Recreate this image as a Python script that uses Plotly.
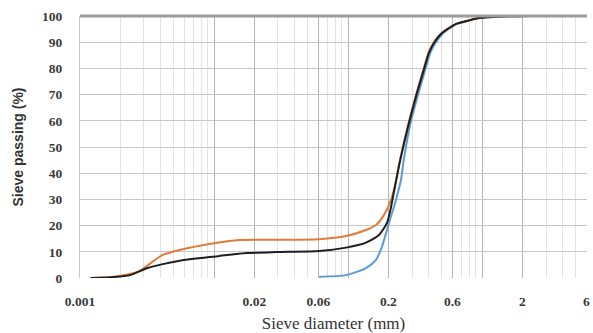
import numpy as np
import plotly.graph_objects as go

# ---- data ----
black_x = [0.0012, 0.0017, 0.00236, 0.00315, 0.00414, 0.00554, 0.00975, 0.0175, 0.0292,
           0.0608, 0.0966, 0.136, 0.170, 0.195, 0.209, 0.222, 0.245, 0.284, 0.326, 0.367,
           0.400, 0.436, 0.500, 0.64, 0.794, 0.942, 1.40, 2.2]
black_y = [0, 0.3, 1.1, 3.7, 5.3, 6.6, 8.1, 9.5, 9.9,
           10.3, 11.6, 13.5, 16.4, 21, 27, 34, 45, 59, 70.5, 79.4,
           85.8, 89.6, 93.4, 97, 98.3, 99.2, 99.8, 100]

orange_x = [0.0012, 0.0017, 0.00236, 0.00279, 0.00315, 0.00414, 0.00554, 0.00975, 0.0155,
            0.0292, 0.0608, 0.0966, 0.136, 0.1615, 0.185, 0.209, 0.222, 0.245, 0.284,
            0.326, 0.367, 0.400, 0.436, 0.500, 0.64, 0.794, 0.942, 1.40, 2.2]
orange_y = [0, 0.3, 1.5, 2.7, 4.6, 8.8, 10.7, 13.2, 14.5,
            14.6, 14.8, 16, 18.3, 20.2, 24, 29.8, 34.5, 45.5, 59.5,
            71, 80, 86.2, 90, 93.6, 97, 98.3, 99.2, 99.8, 100]

blue_x = [0.0608, 0.0966, 0.136, 0.1615, 0.179, 0.202, 0.2275, 0.248, 0.26, 0.292,
          0.335, 0.376, 0.41, 0.447, 0.512, 0.65, 0.8, 0.95, 1.4, 2.2]
blue_y = [0.5, 1.1, 3.8, 6.9, 12, 21, 29.8, 37.4, 45, 59,
          70.5, 79.4, 85.8, 89.6, 93.4, 97, 98.3, 99.2, 99.8, 100]

x_tick_vals = [0.001, 0.02, 0.06, 0.2, 0.6, 2, 6]
x_tick_text = ["0.001", "0.02", "0.06", "0.2", "0.6", "2", "6"]
y_major_vals = [0, 20, 40, 60, 80, 100]
y_minor_vals = [10, 30, 50, 70, 90]

# grid positions on the log axis
decades = [0.01, 0.1, 1]
grid_vals = []
for k in [-3, -2, -1, 0]:
    for n in range(1, 10):
        v = round(n * 10.0 ** k, 6)
        if v <= 6.0001:
            grid_vals.append(v)
major_vals = sorted(set(x_tick_vals) | set(decades))
label_map = dict(zip(x_tick_vals, x_tick_text))
major_text = [label_map.get(v, "") for v in major_vals]
minor_vals = [v for v in grid_vals if v not in major_vals]

fig = go.Figure()
fig.add_trace(go.Scatter(x=blue_x, y=blue_y, mode="lines",
                         line=dict(color="#5B9BD5", width=2, shape="spline", smoothing=0.6)))
fig.add_trace(go.Scatter(x=orange_x, y=orange_y, mode="lines",
                         line=dict(color="#E07B39", width=2, shape="spline", smoothing=0.6)))
fig.add_trace(go.Scatter(x=black_x, y=black_y, mode="lines",
                         line=dict(color="#1E1E1E", width=2, shape="spline", smoothing=0.6)))

tick_font = dict(family="Liberation Serif", size=13.5, color="#3a3a3a", weight="bold")

fig.update_layout(
    width=593, height=333,
    margin=dict(l=80, r=6, t=16, b=55),
    paper_bgcolor="white", plot_bgcolor="white",
    showlegend=False,
    xaxis=dict(
        type="log", range=[-3, np.log10(6.06)], automargin=False,
        tickmode="array", tickvals=major_vals, ticktext=major_text,
        tickfont=tick_font, ticks="", ticklabelstandoff=13,
        showgrid=True, gridcolor="#b4b4b4", gridwidth=1,
        minor=dict(tickmode="array", tickvals=minor_vals, showgrid=True,
                   gridcolor="#e2e2e2", gridwidth=1, ticks=""),
        zeroline=False, showline=False,
        title=dict(text="Sieve diameter (mm)",
                   font=dict(family="Liberation Serif", size=17, color="#333333")),
    ),
    yaxis=dict(
        range=[0, 100], automargin=False,
        tickmode="array", tickvals=y_major_vals + y_minor_vals,
        tickfont=tick_font, ticks="", ticklabelstandoff=14,
        showgrid=True, gridcolor="#c8c8c8", gridwidth=1,
        minor=dict(tickmode="array", tickvals=y_minor_vals, showgrid=True,
                   gridcolor="#e4e4e4", gridwidth=1, ticks=""),
        zeroline=False, showline=True, linecolor="#c8c8c8", linewidth=1,
        title=dict(text="Sieve passing (%)",
                   font=dict(family="Liberation Sans", size=14, color="#333333",
                             weight="bold")),
    ),
    shapes=[dict(type="line", xref="paper", yref="paper", x0=0, x1=1, y0=1, y1=1,
                 line=dict(color="#9a9a9a", width=3), layer="above")],
)

fig.write_html(
    "out.html",
    config={"displayModeBar": False},
    post_script="document.body.style.margin='0';"
                "document.documentElement.style.overflow='hidden';",
)
